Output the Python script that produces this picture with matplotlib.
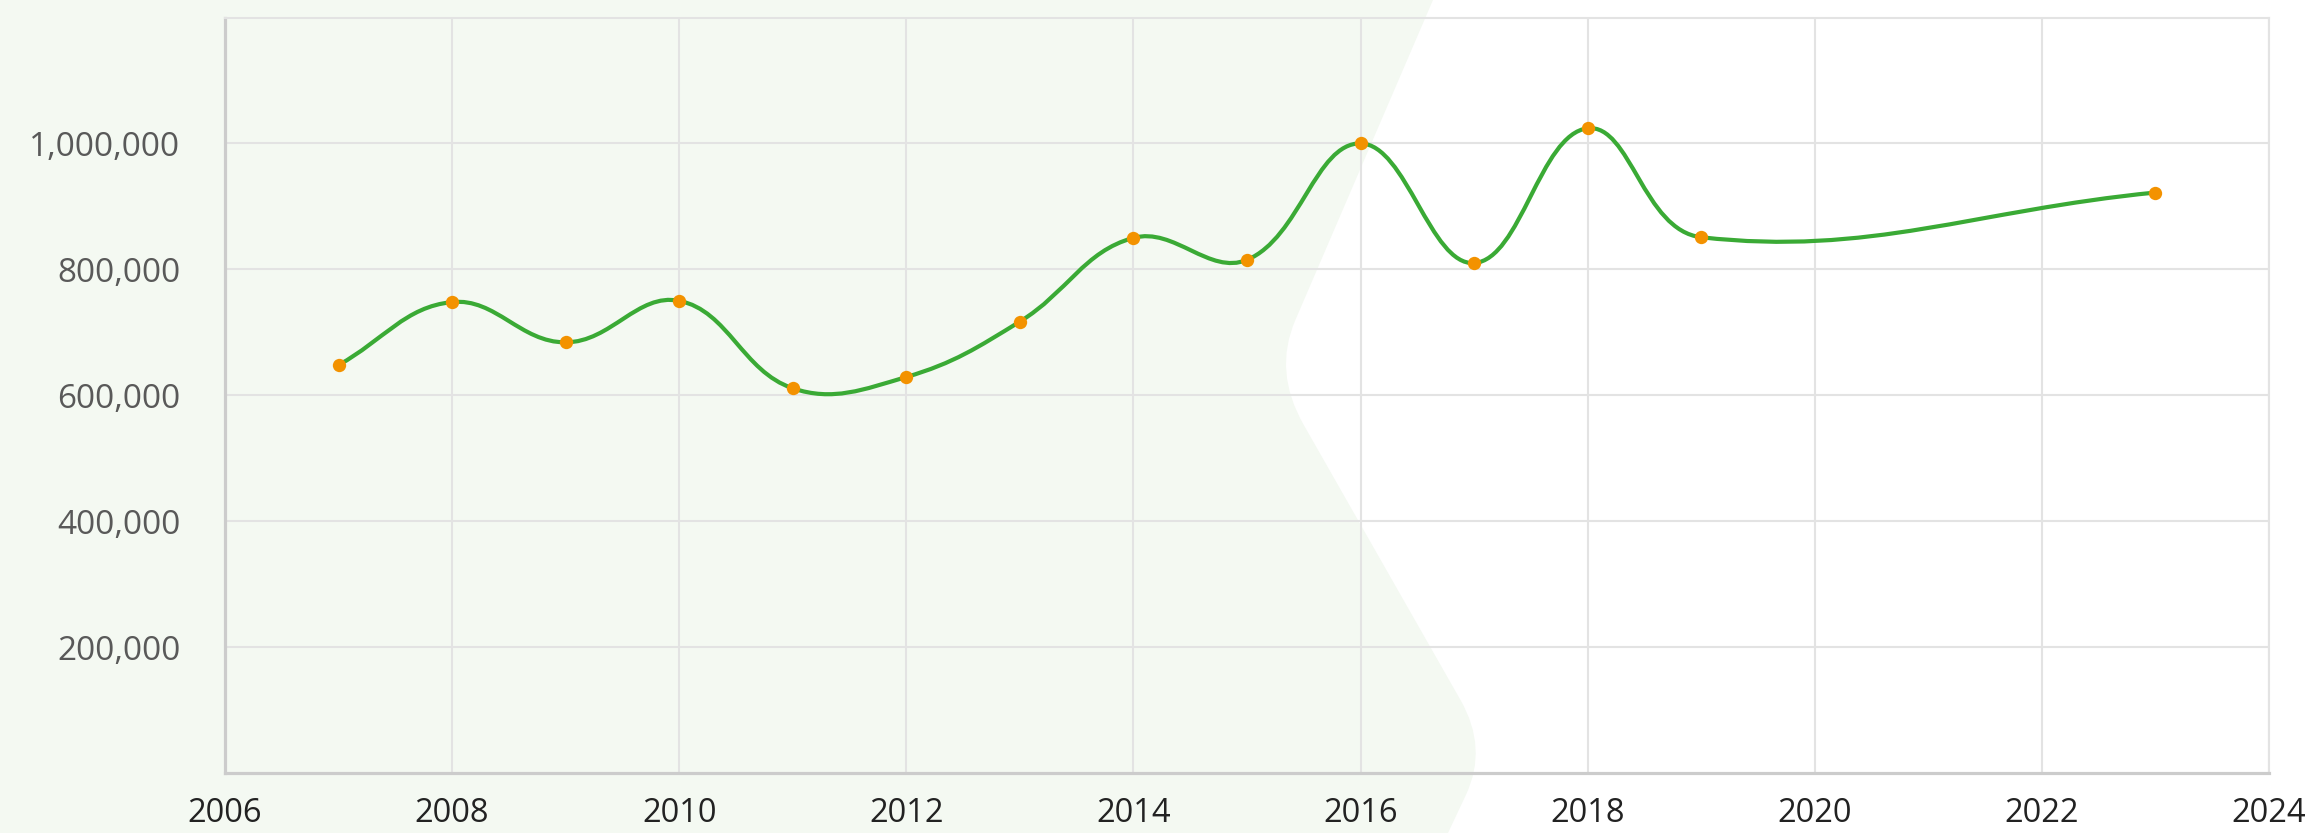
import numpy as np
import matplotlib
matplotlib.use("Agg")
import matplotlib.pyplot as plt
from matplotlib.path import Path
from matplotlib.patches import PathPatch
from matplotlib.ticker import FuncFormatter

# ---- data ----
years = [2007, 2008, 2009, 2010, 2011, 2012, 2013, 2014, 2015, 2016, 2017, 2018, 2019, 2023]
values = [648000, 748000, 684000, 750000, 611000, 629000, 717000, 850000, 815000,
          1000000, 810000, 1024000, 851000, 922000]
x_ticks = [2006, 2008, 2010, 2012, 2014, 2016, 2018, 2020, 2022, 2024]
y_ticks = [200000, 400000, 600000, 800000, 1000000]

W, H = 2311, 833
plt.rcParams['font.family'] = ['Open Sans', 'DejaVu Sans']

fig = plt.figure(figsize=(W / 100, H / 100), dpi=100)
fig.patch.set_facecolor('white')

# ---- decorative background shape (pixel coords, y from top) ----
def P(x, y):
    return (x / W, 1 - y / H)

verts = [P(0, 0), P(1433, 0), P(1295.4, 320), P(1273, 371.5), P(1303.8, 425),
         P(1460.5, 700), P(1488, 748), P(1465.9, 795), P(1448, 833), P(0, 833), P(0, 0)]
codes = [Path.MOVETO, Path.LINETO, Path.LINETO, Path.CURVE3, Path.CURVE3,
         Path.LINETO, Path.CURVE3, Path.CURVE3, Path.LINETO, Path.LINETO, Path.CLOSEPOLY]
bg = PathPatch(Path(verts, codes), facecolor='#f4f9f2', edgecolor='none',
               transform=fig.transFigure, zorder=-10)
fig.add_artist(bg)

# ---- axes ----
ax = fig.add_axes([225 / W, 60 / H, (2269 - 225) / W, (773 - 17.5) / H])
ax.set_facecolor('none')
ax.set_xlim(2006, 2024)
ax.set_ylim(0, 1200000)
ax.set_xticks(x_ticks)
ax.set_yticks(y_ticks)
ax.yaxis.set_major_formatter(FuncFormatter(lambda v, p: f"{int(v):,}"))
ax.grid(True, color='#e3e3e3', lw=1.5, zorder=0)
ax.set_axisbelow(True)
ax.tick_params(axis='both', length=0)
ax.tick_params(axis='y', pad=32, labelsize=24, labelcolor='#595959')
ax.tick_params(axis='x', pad=17.5, labelsize=23.5, labelcolor='#222222')
for s in ['left', 'bottom']:
    ax.spines[s].set_color('#cccccc')
    ax.spines[s].set_linewidth(2.3)
for s in ['top', 'right']:
    ax.spines[s].set_color('#e3e3e3')
    ax.spines[s].set_linewidth(1.5)

# ---- smooth line (Chart.js-style spline, tension 0.4, computed in pixel space) ----
t = 0.4
pts = ax.transData.transform(np.column_stack([years, values]).astype(float))
n = len(pts)
cp_prev = np.zeros_like(pts)
cp_next = np.zeros_like(pts)
for i in range(n):
    cur = pts[i]
    prv = pts[i - 1] if i > 0 else cur
    nxt = pts[i + 1] if i < n - 1 else cur
    d01 = np.hypot(*(cur - prv))
    d12 = np.hypot(*(nxt - cur))
    tot = d01 + d12
    s01 = d01 / tot if tot > 0 else 0
    s12 = d12 / tot if tot > 0 else 0
    cp_prev[i] = cur - t * s01 * (nxt - prv)
    cp_next[i] = cur + t * s12 * (nxt - prv)

inv = ax.transData.inverted()
v = [tuple(inv.transform(pts[0]))]
c = [Path.MOVETO]
for i in range(n - 1):
    v += [tuple(inv.transform(cp_next[i])), tuple(inv.transform(cp_prev[i + 1])),
          tuple(inv.transform(pts[i + 1]))]
    c += [Path.CURVE4] * 3
line = PathPatch(Path(v, c), fill=False, edgecolor='#3aaa35', lw=3.0,
                 capstyle='round', joinstyle='round', zorder=3)
ax.add_patch(line)

ax.plot(years, values, 'o', ms=9.6, color='#f39200', mec='none', zorder=4)

fig.savefig('out.png', dpi=100)
